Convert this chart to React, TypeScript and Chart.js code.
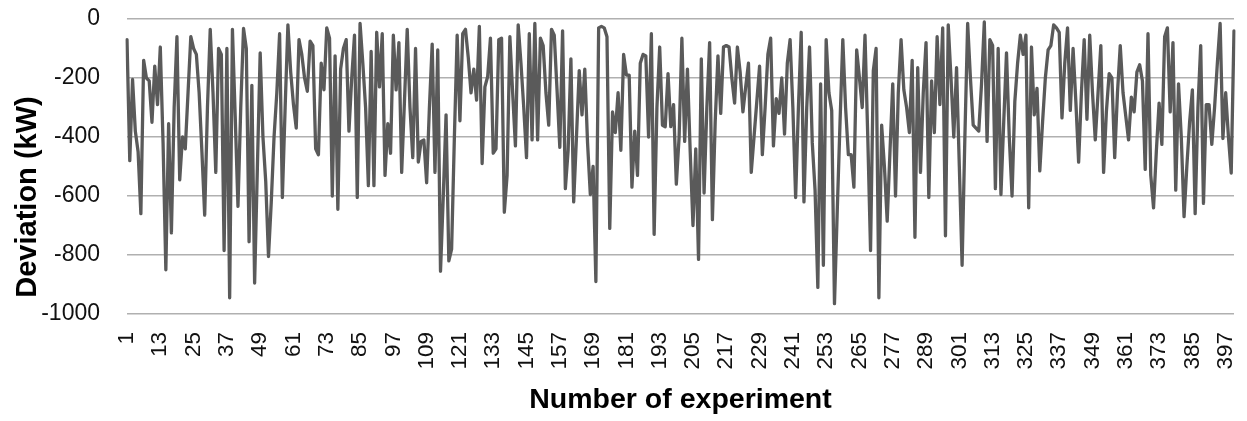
import React, { useEffect, useRef } from "react";
import { Chart, registerables } from "chart.js";

Chart.register(...registerables);

// Deviation (kW) per experiment in blocks of 50
const dev001 = [-70, -480, -205, -380, -450, -660, -140, -200, -210, -350, -160, -290, -95, -420, -850, -355, -725, -300, -60, -545, -400, -440, -250, -60, -100, -120, -250, -450, -665, -300, -35, -250, -520, -100, -120, -785, -100, -945, -35, -330, -635, -300, -32, -100, -755, -225, -895, -500, -115, -400];
const dev051 = [-550, -805, -620, -400, -250, -50, -605, -300, -20, -180, -290, -370, -70, -120, -200, -245, -75, -90, -440, -460, -150, -240, -30, -65, -600, -125, -645, -170, -100, -70, -380, -200, -55, -605, -15, -150, -300, -565, -110, -565, -45, -230, -50, -530, -355, -455, -55, -240, -80, -520];
const dev101 = [-280, -35, -300, -470, -100, -485, -415, -410, -555, -300, -85, -520, -105, -855, -600, -325, -820, -780, -400, -55, -345, -50, -35, -130, -250, -170, -275, -25, -490, -230, -195, -65, -455, -440, -70, -65, -655, -530, -60, -250, -430, -20, -150, -300, -470, -50, -410, -15, -410, -65];
const dev151 = [-90, -250, -360, -35, -55, -240, -435, -40, -575, -445, -135, -620, -400, -175, -325, -170, -420, -595, -500, -890, -30, -25, -30, -60, -710, -315, -385, -250, -445, -120, -190, -190, -570, -380, -530, -150, -120, -125, -400, -50, -730, -300, -95, -360, -365, -185, -365, -290, -560, -400];
const dev201 = [-65, -415, -170, -450, -700, -440, -815, -135, -590, -300, -80, -680, -350, -125, -320, -95, -90, -95, -200, -285, -95, -180, -315, -230, -150, -520, -400, -280, -160, -460, -300, -120, -65, -430, -270, -320, -200, -390, -150, -70, -300, -605, -300, -45, -620, -300, -95, -420, -580, -910];
const dev251 = [-220, -835, -70, -250, -310, -965, -650, -350, -70, -300, -460, -460, -570, -105, -200, -300, -55, -400, -785, -175, -100, -945, -360, -500, -685, -450, -220, -600, -250, -70, -240, -300, -385, -140, -740, -165, -520, -250, -80, -605, -210, -385, -60, -290, -30, -735, -20, -200, -400, -165];
const dev301 = [-500, -835, -400, -15, -200, -360, -370, -380, -220, -10, -415, -70, -90, -575, -100, -595, -350, -115, -400, -600, -280, -150, -55, -120, -55, -640, -95, -325, -235, -515, -350, -200, -105, -90, -20, -30, -45, -335, -150, -30, -310, -100, -280, -485, -250, -70, -340, -55, -250, -410];
const dev351 = [-250, -90, -520, -315, -185, -200, -470, -250, -90, -250, -330, -410, -265, -315, -180, -155, -210, -510, -50, -530, -640, -450, -285, -425, -60, -30, -315, -80, -580, -220, -400, -670, -500, -350, -240, -660, -300, -90, -625, -290, -290, -425, -300, -150, -15, -405, -250, -400, -522, -40];

const deviation = [...dev001, ...dev051, ...dev101, ...dev151, ...dev201, ...dev251, ...dev301, ...dev351];
const experiments = deviation.map((_, i) => String(i + 1));
const labelStep = 12;
const yMin = -1000;
const yMax = 0;
const yStep = 200;
const xTitle = "Number of experiment";
const yTitle = "Deviation (kW)";

const FONT = "'Liberation Sans', Arial, sans-serif";

export default function App() {
  const ref = useRef<HTMLCanvasElement>(null);

  useEffect(() => {
    document.body.style.margin = "0";
    const yTitlePlugin = {
      id: "yTitleManual",
      afterDraw(chart: any) {
        const ctx = chart.ctx;
        ctx.save();
        ctx.translate(28, 197);
        ctx.rotate(-Math.PI / 2);
        ctx.font = `bold 29px ${FONT}`;
        ctx.fillStyle = "#000";
        ctx.textAlign = "center";
        ctx.textBaseline = "middle";
        ctx.fillText(yTitle, 0, 0);
        ctx.restore();
      },
    };

    const chart = new Chart(ref.current as HTMLCanvasElement, {
      type: "line",
      data: {
        labels: experiments,
        datasets: [
          {
            data: deviation,
            borderColor: "#5a5a5a",
            borderWidth: 3.3,
            pointRadius: 0,
            tension: 0,
            fill: false,
            borderJoinStyle: "round",
            borderCapStyle: "round",
          },
        ],
      },
      options: {
        animation: false,
        responsive: true,
        maintainAspectRatio: false,
        layout: { padding: { top: 19, right: 13, left: 0, bottom: 0 } },
        plugins: { legend: { display: false }, tooltip: { enabled: false } },
        scales: {
          x: {
            type: "category",
            offset: false,
            grid: { display: false, drawTicks: false },
            border: { display: false },
            ticks: {
              autoSkip: false,
              maxRotation: 90,
              minRotation: 90,
              padding: 18,
              color: "#111",
              font: { family: FONT, size: 22.5 },
              callback: (_v: any, i: number) => (i % labelStep === 0 ? experiments[i] : null),
            },
            title: {
              display: true,
              text: xTitle,
              color: "#000",
              font: { family: FONT, size: 28.5, weight: "bold" },
              padding: { top: 0, bottom: 4 },
            },
            afterFit: (s: any) => {
              s.height = 107;
              s.paddingLeft = 0;
              s.paddingRight = 0;
              s.paddingTop = 0;
              s.paddingBottom = 0;
            },
          },
          y: {
            min: yMin,
            max: yMax,
            grid: { color: "#b0b0b0", lineWidth: 1.5, drawTicks: false },
            border: { display: false },
            ticks: {
              stepSize: yStep,
              padding: 27,
              color: "#111",
              font: { family: FONT, size: 23 },
              callback: (v: any) => String(v),
            },
            afterFit: (s: any) => {
              s.width = 127;
              s.paddingLeft = 0;
              s.paddingRight = 0;
              s.paddingTop = 0;
              s.paddingBottom = 0;
            },
          },
        },
      } as any,
      plugins: [yTitlePlugin],
    });
    return () => chart.destroy();
  }, []);

  return (
    <div style={{ width: 1247, height: 421, position: "relative" }}>
      <canvas ref={ref} />
    </div>
  );
}
